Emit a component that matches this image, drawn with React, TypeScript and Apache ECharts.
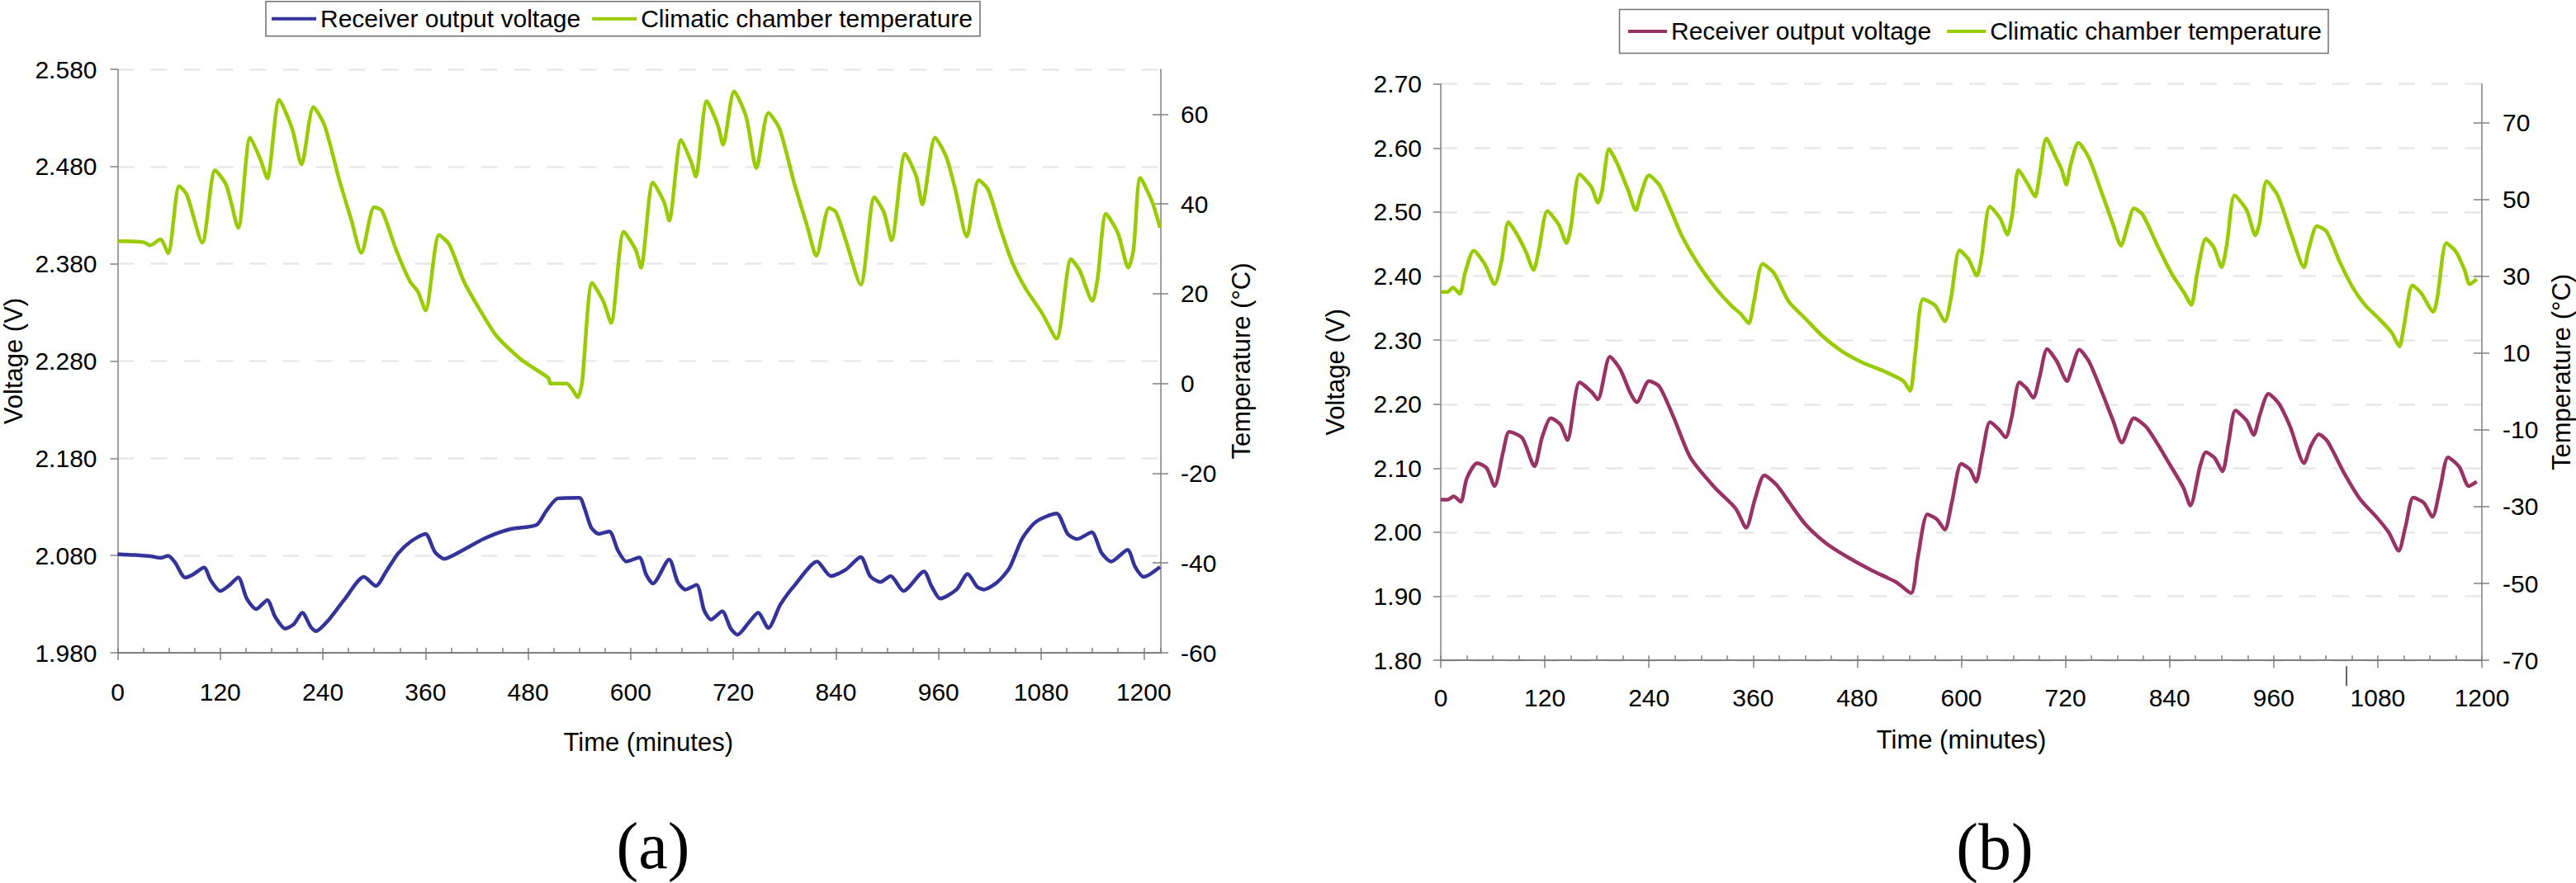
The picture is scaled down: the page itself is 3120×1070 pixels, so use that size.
import { useEffect, useRef } from "react";
import * as echarts from "echarts";

type Pt = [number, number];

const VOLT_NAME = "Receiver output voltage";
const TEMP_NAME = "Climatic chamber temperature";

const FONT = "'Liberation Sans', Arial, sans-serif";
const SERIF = "'Liberation Serif', 'Times New Roman', serif";
const AXIS_GRAY = "#808080";
const GRID_GRAY = "#e8e8e8";
const GREEN = "#99cc00";
const NAVY = "#333399";
const PLUM = "#993366";

// Time axis labels, shared by both panels (minutes).
const TIME_TICKS = [0, 120, 240, 360, 480, 600, 720, 840, 960, 1080, 1200];

// ---- panel (a) ----
const A_VOLT_TICKS = [1.98, 2.08, 2.18, 2.28, 2.38, 2.48, 2.58];
const A_TEMP_TICKS = [-60, -40, -20, 0, 20, 40, 60];

const A_VOLTAGE: Pt[] = [
  [0, 2.0815], [20, 2.0805], [40, 2.079], [50, 2.0775], [59, 2.0797], [67, 2.073],
  [79, 2.0574], [88, 2.0605], [101, 2.0676], [109, 2.0543], [120, 2.0435], [131, 2.0497],
  [141, 2.0574], [151, 2.0357], [162, 2.0249], [175, 2.0342], [184, 2.0172], [196, 2.0048],
  [206, 2.0094], [216, 2.0212], [226, 2.0063], [232, 2.0023], [247, 2.014], [266, 2.0357],
  [288, 2.058], [302, 2.0487], [314, 2.0636], [328, 2.0822], [343, 2.0946], [360, 2.1023],
  [371, 2.0837], [382, 2.0766], [400, 2.0837], [429, 2.0976], [458, 2.1069], [490, 2.1116],
  [501, 2.1255], [515, 2.1388], [540, 2.1394], [546, 2.1286], [554, 2.1085], [563, 2.1023],
  [575, 2.1048], [585, 2.0853], [595, 2.0738], [610, 2.0781], [618, 2.0605], [626, 2.0512],
  [645, 2.076], [655, 2.0528], [664, 2.045], [677, 2.0497], [686, 2.0233], [694, 2.0141],
  [707, 2.0227], [717, 2.0048], [725, 1.9986], [738, 2.011], [749, 2.0212], [761, 2.0054],
  [775, 2.0295], [792, 2.0497], [818, 2.0738], [834, 2.0589], [851, 2.0651], [869, 2.0784],
  [880, 2.0589], [892, 2.0528], [904, 2.0589], [919, 2.0435], [943, 2.0636], [952, 2.0481],
  [962, 2.0357], [981, 2.045], [994, 2.0611], [1005, 2.0481], [1013, 2.045], [1029, 2.0528],
  [1043, 2.0673], [1058, 2.0976], [1074, 2.1147], [1098, 2.1233], [1111, 2.1023], [1122, 2.097],
  [1139, 2.1038], [1151, 2.0822], [1162, 2.0738], [1181, 2.0859], [1190, 2.0682], [1200, 2.058],
  [1219, 2.0682],
];

const A_TEMPERATURE: Pt[] = [
  [0, 31.7], [30, 31.5], [38, 30.8], [50, 32.1], [59, 29.0], [72, 44.0], [81, 42.0],
  [99, 31.4], [114, 47.5], [127, 44.2], [141, 34.7], [155, 54.8], [167, 49.9], [175, 45.7],
  [189, 63.2], [204, 56.8], [215, 48.8], [229, 61.6], [242, 57.5], [259, 45.5], [273, 36.6],
  [285, 29.1], [300, 39.3], [309, 38.5], [326, 29.6], [342, 22.7], [351, 20.5], [360, 16.3],
  [376, 33.1], [388, 30.9], [405, 22.7], [424, 16.3], [443, 10.6], [472, 5.3], [504, 1.2],
  [506, 0], [525, 0], [532, -1.4], [538, -3.1], [543, 0], [555, 22.4], [568, 18.3],
  [577, 13.5], [592, 33.8], [606, 29.7], [612, 25.8], [626, 44.8], [639, 40.4], [645, 36.3],
  [659, 54.3], [671, 49.2], [676, 46.1], [689, 62.9], [702, 57.5], [708, 53.2], [721, 65.1],
  [735, 59.4], [747, 48.0], [761, 60.3], [774, 56.8], [791, 44.8], [807, 34.7], [817, 28.4],
  [832, 39.1], [840, 38.2], [851, 32.2], [869, 22.0], [885, 41.5], [896, 38.2], [905, 31.9],
  [921, 51.2], [934, 46.1], [941, 39.9], [956, 54.8], [969, 50.5], [980, 42.9], [993, 32.7],
  [1007, 45.3], [1018, 43.2], [1032, 34.7], [1046, 27.1], [1062, 21.1], [1081, 15.7],
  [1098, 10.0], [1115, 27.7], [1125, 25.2], [1140, 18.4], [1146, 23.3], [1156, 37.8],
  [1170, 33.4], [1182, 25.8], [1188, 29.8], [1196, 45.8], [1210, 40.4], [1219, 34.7],
];

// ---- panel (b) ----
const B_VOLT_TICKS = [1.8, 1.9, 2.0, 2.1, 2.2, 2.3, 2.4, 2.5, 2.6, 2.7];
const B_TEMP_TICKS = [-70, -50, -30, -10, 10, 30, 50, 70];

const B_VOLTAGE: Pt[] = [
  [0, 2.051], [8, 2.051], [15, 2.056], [23, 2.0475], [30, 2.084], [42, 2.108], [53, 2.1],
  [62, 2.072], [72, 2.126], [79, 2.157], [94, 2.147], [108, 2.103], [117, 2.149], [127, 2.178],
  [138, 2.168], [146, 2.144], [160, 2.234], [174, 2.219], [181, 2.2075], [195, 2.274],
  [207, 2.254], [219, 2.216], [226, 2.203], [240, 2.236], [252, 2.2275], [268, 2.181],
  [288, 2.116], [316, 2.0695], [340, 2.037], [352, 2.007], [362, 2.051], [373, 2.089],
  [387, 2.074], [402, 2.046], [420, 2.013], [444, 1.983], [468, 1.962], [496, 1.941],
  [525, 1.922], [542, 1.905], [550, 1.962], [561, 2.028], [572, 2.02], [581, 2.004],
  [589, 2.046], [600, 2.107], [610, 2.098], [617, 2.079], [624, 2.121], [633, 2.172],
  [643, 2.161], [651, 2.148], [658, 2.179], [667, 2.234], [675, 2.225], [683, 2.21],
  [690, 2.241], [699, 2.286], [710, 2.267], [722, 2.236], [727, 2.254], [736, 2.285],
  [747, 2.267], [762, 2.219], [775, 2.174], [785, 2.14], [799, 2.178], [814, 2.163],
  [842, 2.102], [856, 2.0695], [864, 2.0415], [875, 2.102], [882, 2.125], [892, 2.116],
  [901, 2.095], [908, 2.14], [916, 2.19], [929, 2.174], [937, 2.152], [944, 2.183],
  [954, 2.216], [966, 2.201], [979, 2.165], [995, 2.108], [1003, 2.135], [1012, 2.153],
  [1022, 2.142], [1041, 2.093], [1060, 2.051], [1079, 2.023], [1093, 1.999], [1104, 1.971],
  [1112, 2.009], [1121, 2.054], [1133, 2.046], [1143, 2.024], [1152, 2.0695], [1161, 2.117],
  [1174, 2.102], [1185, 2.072], [1194, 2.079],
];

const B_TEMPERATURE: Pt[] = [
  [0, 25.9], [8, 25.9], [14, 27.0], [22, 25.4], [28, 30.8], [38, 36.6], [51, 33.0],
  [62, 27.9], [70, 33.8], [78, 44.0], [88, 40.8], [98, 36.4], [107, 31.6], [113, 36.7],
  [123, 46.9], [136, 43.4], [145, 38.6], [150, 42.7], [160, 56.5], [174, 53.0], [181, 49.1],
  [186, 52.3], [194, 63.0], [204, 59.0], [216, 52.3], [225, 47.1], [230, 50.8], [240, 56.2],
  [252, 53.7], [264, 47.8], [278, 40.4], [297, 33.0], [316, 27.1], [335, 22.3], [346, 20.1],
  [355, 17.7], [361, 23.4], [371, 33.2], [384, 30.8], [401, 23.4], [420, 19.0], [439, 14.6],
  [462, 10.5], [486, 7.5], [510, 5.3], [533, 2.7], [541, 0.1], [547, 10.0], [556, 24.0],
  [570, 22.3], [581, 18.2], [588, 24.1], [598, 36.7], [608, 34.5], [618, 30.1], [623, 34.5],
  [633, 48.1], [645, 44.9], [653, 40.8], [659, 46.4], [666, 57.6], [677, 53.8], [685, 50.7],
  [690, 56.0], [698, 65.8], [710, 60.4], [716, 57.5], [721, 53.8], [726, 59.0], [735, 64.7],
  [747, 60.8], [762, 51.6], [775, 43.4], [784, 37.9], [792, 43.4], [799, 47.6], [809, 46.0],
  [827, 37.5], [842, 30.8], [857, 25.6], [865, 22.5], [872, 30.8], [882, 39.7], [891, 37.5],
  [900, 32.3], [906, 38.2], [915, 51.0], [929, 47.1], [939, 40.6], [944, 44.1], [952, 54.7],
  [965, 50.8], [981, 40.4], [995, 32.3], [1000, 36.7], [1010, 43.0], [1021, 41.6],
  [1036, 33.8], [1051, 27.1], [1066, 22.3], [1081, 19.0], [1096, 15.3], [1105, 11.7],
  [1110, 16.7], [1120, 27.6], [1130, 25.6], [1144, 20.7], [1149, 24.9], [1159, 38.6],
  [1170, 36.4], [1180, 31.6], [1186, 27.9], [1194, 29.2],
];

type Panel = {
  grid: { left: number; top: number; width: number; height: number };
  timeMax: number;
  voltTicks: number[];
  voltDigits: number;
  tempTicks: number[];
  tempRange: [number, number];
  voltage: Pt[];
  temperature: Pt[];
  voltColor: string;
  legend: { left: number; top: number; padding: number[]; itemWidth: number; itemGap: number };
  gaps: { volt: number; temp: number; time: number; timeShift: number };
  margins: { volt: number; temp: number; time: number };
  caption: { text: string; x: number; y: number };
  stray?: number; // lone tick mark under the time axis in (b)
};

const PANEL_A: Panel = {
  grid: { left: 142.5, top: 84, width: 1263.5, height: 707 },
  timeMax: 1220,
  voltTicks: A_VOLT_TICKS,
  voltDigits: 3,
  tempTicks: A_TEMP_TICKS,
  tempRange: [-60, 70],
  voltage: A_VOLTAGE,
  temperature: A_TEMPERATURE,
  voltColor: NAVY,
  legend: { left: 322, top: 1.7, padding: [6, 9, 6, 7], itemWidth: 54, itemGap: 14 },
  gaps: { volt: 111, temp: 82, time: 93, timeShift: 11 },
  margins: { volt: 25, temp: 24, time: 32 },
  caption: { text: "(a)", x: 791, y: 1025 },
};

const PANEL_B: Panel = {
  grid: { left: 185, top: 101.7, width: 1261, height: 698.5 },
  timeMax: 1200,
  voltTicks: B_VOLT_TICKS,
  voltDigits: 2,
  tempTicks: B_TEMP_TICKS,
  tempRange: [-70, 80],
  voltage: B_VOLTAGE,
  temperature: B_TEMPERATURE,
  voltColor: PLUM,
  legend: { left: 401.5, top: 11.4, padding: [11.5, 8, 11.5, 10.5], itemWidth: 47, itemGap: 19 },
  gaps: { volt: 112, temp: 81, time: 81, timeShift: 0 },
  margins: { volt: 23, temp: 25, time: 30 },
  caption: { text: "(b)", x: 856, y: 1026 },
  stray: 1044,
};

function buildOption(p: Panel) {
  const tick = { color: AXIS_GRAY, width: 1.5 };
  const label = { fontSize: 30, fontFamily: FONT, color: "#000" };
  const nameStyle = { fontSize: 31, fontFamily: FONT, color: "#000" };
  const vt = p.voltTicks;
  const line = (name: string, data: Pt[], yAxisIndex: number, color: string) => ({
    name,
    type: "line",
    xAxisIndex: 0,
    yAxisIndex,
    data,
    symbol: "none",
    showSymbol: false,
    smooth: 0.25,
    lineStyle: { color, width: 4.5 },
    itemStyle: { color },
    z: 3,
  });

  return {
    animation: false,
    backgroundColor: "#ffffff",
    textStyle: { fontFamily: FONT, color: "#000" },
    legend: {
      ...p.legend,
      itemHeight: 4,
      icon: "rect",
      selectedMode: false,
      borderColor: "#707070",
      borderWidth: 1.5,
      borderRadius: 0,
      textStyle: { fontSize: 30, fontFamily: FONT, color: "#000" },
      data: [VOLT_NAME, TEMP_NAME],
    },
    grid: { ...p.grid, containLabel: false, outerBoundsMode: "none" },
    xAxis: [
      {
        type: "value",
        min: 0,
        max: p.timeMax,
        position: "bottom",
        name: "Time (minutes)",
        nameLocation: "middle",
        nameGap: p.gaps.time,
        nameMoveOverlap: false,
        nameTextStyle: { ...nameStyle, padding: [0, 0, 0, p.gaps.timeShift * 2] },
        axisLine: { show: true, onZero: false, lineStyle: { color: AXIS_GRAY, width: 2 } },
        axisTick: { show: true, customValues: TIME_TICKS, length: 9, lineStyle: tick },
        axisLabel: {
          customValues: TIME_TICKS,
          margin: p.margins.time,
          formatter: (v: number) => String(v),
          ...label,
        },
        splitLine: { show: false },
      },
      {
        // minor 30-minute ticks, drawn inward
        type: "value",
        min: 0,
        max: p.timeMax,
        position: "bottom",
        interval: 30,
        axisLine: { show: false, onZero: false },
        axisTick: { show: true, inside: true, length: 6, lineStyle: tick },
        axisLabel: { show: false },
        splitLine: { show: false },
      },
    ],
    yAxis: [
      {
        type: "value",
        min: vt[0],
        max: vt[vt.length - 1],
        position: "left",
        name: "Voltage (V)",
        nameLocation: "middle",
        nameRotate: 90,
        nameGap: p.gaps.volt,
        nameMoveOverlap: false,
        nameTextStyle: nameStyle,
        axisLine: { show: true, onZero: false, lineStyle: tick },
        axisTick: { show: true, customValues: vt, length: 9, lineStyle: tick },
        axisLabel: {
          customValues: vt,
          margin: p.margins.volt,
          formatter: (v: number) => v.toFixed(p.voltDigits),
          ...label,
        },
        splitLine: { show: true, lineStyle: { color: GRID_GRAY, width: 2.5, type: [20, 20] } },
      },
      {
        type: "value",
        min: p.tempRange[0],
        max: p.tempRange[1],
        position: "right",
        name: "Temperature (°C)",
        nameLocation: "middle",
        nameRotate: 90,
        nameGap: p.gaps.temp,
        nameMoveOverlap: false,
        nameTextStyle: nameStyle,
        axisLine: { show: true, onZero: false, lineStyle: tick },
        axisTick: { show: true, customValues: p.tempTicks, length: 9, lineStyle: tick },
        axisLabel: { customValues: p.tempTicks, margin: p.margins.temp, ...label },
        splitLine: { show: false },
      },
      {
        // inner half of the crossing temperature ticks
        type: "value",
        min: p.tempRange[0],
        max: p.tempRange[1],
        position: "right",
        axisLine: { show: false, onZero: false },
        axisTick: { show: true, inside: true, customValues: p.tempTicks, length: 10, lineStyle: tick },
        axisLabel: { show: false },
        splitLine: { show: false },
      },
    ],
    graphic: [
      {
        id: "caption",
        type: "text",
        x: p.caption.x,
        y: p.caption.y,
        style: {
          text: p.caption.text,
          fontSize: 80,
          fontFamily: SERIF,
          fill: "#000",
          align: "center",
          verticalAlign: "middle",
          textAlign: "center",
          textVerticalAlign: "middle",
        },
      },
    ],
    series: [
      line(VOLT_NAME, p.voltage, 0, p.voltColor),
      line(TEMP_NAME, p.temperature, 1, GREEN),
    ],
  };
}

function PanelChart({ panel }: { panel: Panel }) {
  const elRef = useRef<HTMLDivElement | null>(null);

  useEffect(() => {
    if (!elRef.current) return;
    const chart = echarts.init(elRef.current, undefined, { renderer: "svg" });
    chart.setOption(buildOption(panel) as any);
    if (panel.stray != null) {
      const x = chart.convertToPixel({ xAxisIndex: 0 }, panel.stray) as number;
      const bottom = panel.grid.top + panel.grid.height;
      chart.setOption({
        graphic: [
          {
            id: "stray",
            type: "line",
            shape: { x1: x, y1: bottom + 7, x2: x, y2: bottom + 31 },
            style: { stroke: "#333", lineWidth: 1.5 },
          },
        ],
      });
    }
    return () => chart.dispose();
  }, [panel]);

  return <div ref={elRef} style={{ width: 1560, height: 1070 }} />;
}

export default function App() {
  return (
    <div
      style={{
        position: "fixed",
        left: 0,
        top: 0,
        width: 3120,
        height: 1070,
        display: "flex",
        background: "#fff",
      }}
    >
      <PanelChart panel={PANEL_A} />
      <PanelChart panel={PANEL_B} />
    </div>
  );
}
